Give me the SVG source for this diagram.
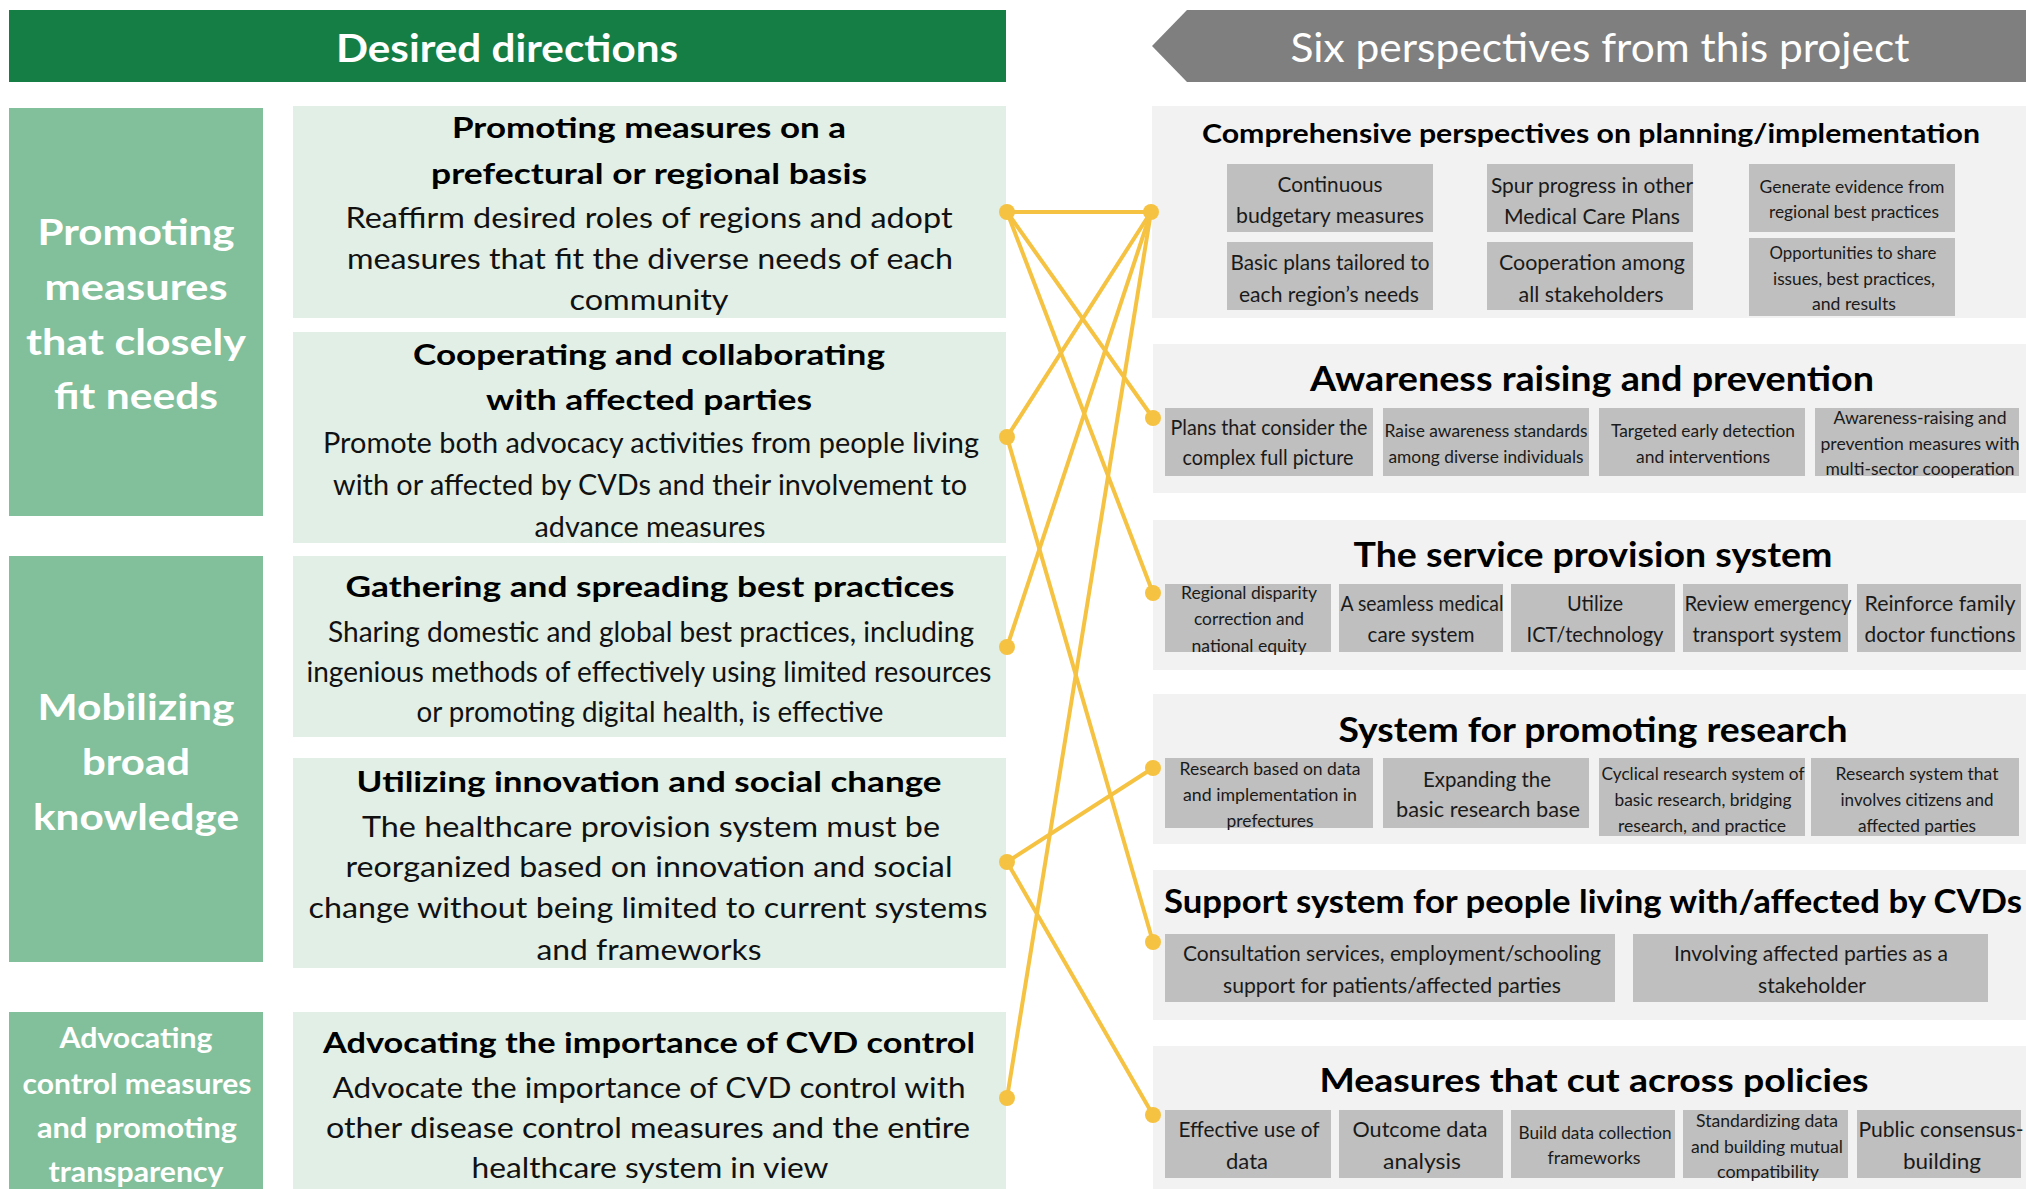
<svg xmlns="http://www.w3.org/2000/svg" width="2026" height="1189" viewBox="0 0 2026 1189">
<style>
text{font-family:Lato,"Liberation Sans",sans-serif;text-anchor:middle;}
.hd{fill:#fff;font-size:39px;font-weight:700;}
.hd2{fill:#fff;font-size:40px;font-weight:400;}
.side{fill:#82BF9B;}
.sb{fill:#fff;font-weight:700;font-size:37px;}
.sb3{fill:#fff;font-weight:700;font-size:28px;}
.cb{fill:#E2EFE6;}
.ct{fill:#000;font-weight:700;font-size:29px;}
.cx{fill:#111;font-size:28px;}
.sec{fill:#F2F2F2;}
.st{fill:#000;font-weight:700;font-size:34px;}
.bx{fill:#BFBFBF;}
.t2{fill:#1a1a1a;font-size:21px;}
.t3{fill:#1a1a1a;font-size:18px;}
.con line{stroke:#F5C242;stroke-width:4;stroke-linecap:round;}
.con circle{fill:#F5C242;}
</style>

<g id="header-left">
<rect x="9" y="10" width="997" height="72" fill="#147E45"/>
<text class="hd" x="507" y="62" textLength="342" lengthAdjust="spacingAndGlyphs">Desired directions</text>
</g>
<g id="header-right">
<polygon points="1152,46 1187,10 2026,10 2026,82 1187,82" fill="#7F7F7F"/>
<text class="hd2" x="1600" y="62" textLength="619" lengthAdjust="spacingAndGlyphs">Six perspectives from this project</text>
</g>

<g id="side-1">
<rect class="side" x="9" y="108" width="254" height="408"/>
<text class="sb" x="136" y="245" textLength="197" lengthAdjust="spacingAndGlyphs">Promoting</text>
<text class="sb" x="136" y="300" textLength="183" lengthAdjust="spacingAndGlyphs">measures</text>
<text class="sb" x="136" y="355" textLength="220" lengthAdjust="spacingAndGlyphs">that closely</text>
<text class="sb" x="136" y="409" textLength="164" lengthAdjust="spacingAndGlyphs">fit needs</text>
</g>
<g id="side-2">
<rect class="side" x="9" y="556" width="254" height="406"/>
<text class="sb" x="136" y="720" textLength="197" lengthAdjust="spacingAndGlyphs">Mobilizing</text>
<text class="sb" x="136" y="775" textLength="108" lengthAdjust="spacingAndGlyphs">broad</text>
<text class="sb" x="136" y="830" textLength="206" lengthAdjust="spacingAndGlyphs">knowledge</text>
</g>
<g id="side-3">
<rect class="side" x="9" y="1012" width="254" height="177"/>
<text class="sb3" x="136" y="1048" textLength="153" lengthAdjust="spacingAndGlyphs">Advocating</text>
<text class="sb3" x="137" y="1094" textLength="229" lengthAdjust="spacingAndGlyphs">control measures</text>
<text class="sb3" x="137" y="1138" textLength="200" lengthAdjust="spacingAndGlyphs">and promoting</text>
<text class="sb3" x="136" y="1182" textLength="175" lengthAdjust="spacingAndGlyphs">transparency</text>
</g>

<g id="dir-1">
<rect class="cb" x="293" y="106" width="713" height="212"/>
<text class="ct" x="649" y="138" textLength="394" lengthAdjust="spacingAndGlyphs">Promoting measures on a</text>
<text class="ct" x="649" y="184" textLength="436" lengthAdjust="spacingAndGlyphs">prefectural or regional basis</text>
<text class="cx" x="649" y="228" textLength="607" lengthAdjust="spacingAndGlyphs">Reaffirm desired roles of regions and adopt</text>
<text class="cx" x="650" y="269" textLength="606" lengthAdjust="spacingAndGlyphs">measures that fit the diverse needs of each</text>
<text class="cx" x="649" y="310" textLength="159" lengthAdjust="spacingAndGlyphs">community</text>
</g>
<g id="dir-2">
<rect class="cb" x="293" y="332" width="713" height="211"/>
<text class="ct" x="649" y="365" textLength="472" lengthAdjust="spacingAndGlyphs">Cooperating and collaborating</text>
<text class="ct" x="649" y="410" textLength="326" lengthAdjust="spacingAndGlyphs">with affected parties</text>
<text class="cx" x="651" y="453" textLength="656" lengthAdjust="spacingAndGlyphs">Promote both advocacy activities from people living</text>
<text class="cx" x="650" y="495" textLength="634" lengthAdjust="spacingAndGlyphs">with or affected by CVDs and their involvement to</text>
<text class="cx" x="650" y="537" textLength="231" lengthAdjust="spacingAndGlyphs">advance measures</text>
</g>
<g id="dir-3">
<rect class="cb" x="293" y="556" width="713" height="181"/>
<text class="ct" x="650" y="597" textLength="609" lengthAdjust="spacingAndGlyphs">Gathering and spreading best practices</text>
<text class="cx" x="651" y="642" textLength="646" lengthAdjust="spacingAndGlyphs">Sharing domestic and global best practices, including</text>
<text class="cx" x="649" y="682" textLength="685" lengthAdjust="spacingAndGlyphs">ingenious methods of effectively using limited resources</text>
<text class="cx" x="650" y="722" textLength="467" lengthAdjust="spacingAndGlyphs">or promoting digital health, is effective</text>
</g>
<g id="dir-4">
<rect class="cb" x="293" y="758" width="713" height="210"/>
<text class="ct" x="649" y="792" textLength="585" lengthAdjust="spacingAndGlyphs">Utilizing innovation and social change</text>
<text class="cx" x="651" y="837" textLength="578" lengthAdjust="spacingAndGlyphs">The healthcare provision system must be</text>
<text class="cx" x="649" y="877" textLength="607" lengthAdjust="spacingAndGlyphs">reorganized based on innovation and social</text>
<text class="cx" x="648" y="918" textLength="679" lengthAdjust="spacingAndGlyphs">change without being limited to current systems</text>
<text class="cx" x="649" y="960" textLength="225" lengthAdjust="spacingAndGlyphs">and frameworks</text>
</g>
<g id="dir-5">
<rect class="cb" x="293" y="1012" width="713" height="177"/>
<text class="ct" x="649" y="1053" textLength="652" lengthAdjust="spacingAndGlyphs">Advocating the importance of CVD control</text>
<text class="cx" x="649" y="1098" textLength="633" lengthAdjust="spacingAndGlyphs">Advocate the importance of CVD control with</text>
<text class="cx" x="648" y="1138" textLength="644" lengthAdjust="spacingAndGlyphs">other disease control measures and the entire</text>
<text class="cx" x="650" y="1178" textLength="357" lengthAdjust="spacingAndGlyphs">healthcare system in view</text>
</g>

<g id="persp-1">
<rect class="sec" x="1152" y="106" width="874" height="212"/>
<text class="st" style="font-size:26px" x="1591" y="143" textLength="778" lengthAdjust="spacingAndGlyphs">Comprehensive perspectives on planning/implementation</text>
<rect class="bx" x="1227" y="164" width="206" height="68"/>
<text class="t2" x="1330" y="192" textLength="105" lengthAdjust="spacingAndGlyphs">Continuous</text>
<text class="t2" x="1330" y="223" textLength="188" lengthAdjust="spacingAndGlyphs">budgetary measures</text>
<rect class="bx" x="1487" y="164" width="206" height="68"/>
<text class="t2" x="1592" y="193" textLength="202" lengthAdjust="spacingAndGlyphs">Spur progress in other</text>
<text class="t2" x="1592" y="224" textLength="176" lengthAdjust="spacingAndGlyphs">Medical Care Plans</text>
<rect class="bx" x="1749" y="164" width="206" height="68"/>
<text class="t3" style="font-size:17px" x="1852" y="193" textLength="185" lengthAdjust="spacingAndGlyphs">Generate evidence from</text>
<text class="t3" style="font-size:17px" x="1854" y="218" textLength="170" lengthAdjust="spacingAndGlyphs">regional best practices</text>
<rect class="bx" x="1227" y="242" width="206" height="68"/>
<text class="t2" x="1330" y="270" textLength="199" lengthAdjust="spacingAndGlyphs">Basic plans tailored to</text>
<text class="t2" x="1329" y="302" textLength="180" lengthAdjust="spacingAndGlyphs">each region’s needs</text>
<rect class="bx" x="1487" y="242" width="206" height="68"/>
<text class="t2" x="1592" y="270" textLength="186" lengthAdjust="spacingAndGlyphs">Cooperation among</text>
<text class="t2" x="1591" y="302" textLength="145" lengthAdjust="spacingAndGlyphs">all stakeholders</text>
<rect class="bx" x="1749" y="238" width="206" height="78"/>
<text class="t3" x="1853" y="259" textLength="167" lengthAdjust="spacingAndGlyphs">Opportunities to share</text>
<text class="t3" x="1854" y="285" textLength="162" lengthAdjust="spacingAndGlyphs">issues, best practices,</text>
<text class="t3" x="1854" y="310" textLength="84" lengthAdjust="spacingAndGlyphs">and results</text>
</g>

<g id="persp-2">
<rect class="sec" x="1153" y="344" width="873" height="149"/>
<text class="st" x="1592" y="391" textLength="564" lengthAdjust="spacingAndGlyphs">Awareness raising and prevention</text>
<rect class="bx" x="1165" y="408" width="208" height="68"/>
<text class="t2" x="1269" y="435" textLength="197" lengthAdjust="spacingAndGlyphs">Plans that consider the</text>
<text class="t2" x="1268" y="465" textLength="171" lengthAdjust="spacingAndGlyphs">complex full picture</text>
<rect class="bx" x="1383" y="408" width="206" height="68"/>
<text class="t3" x="1486" y="437" textLength="203" lengthAdjust="spacingAndGlyphs">Raise awareness standards</text>
<text class="t3" x="1486" y="463" textLength="195" lengthAdjust="spacingAndGlyphs">among diverse individuals</text>
<rect class="bx" x="1599" y="408" width="206" height="68"/>
<text class="t3" x="1703" y="437" textLength="184" lengthAdjust="spacingAndGlyphs">Targeted early detection</text>
<text class="t3" x="1703" y="463" textLength="134" lengthAdjust="spacingAndGlyphs">and interventions</text>
<rect class="bx" x="1815" y="408" width="204" height="68"/>
<text class="t3" x="1920" y="424" textLength="173" lengthAdjust="spacingAndGlyphs">Awareness-raising and</text>
<text class="t3" x="1920" y="450" textLength="199" lengthAdjust="spacingAndGlyphs">prevention measures with</text>
<text class="t3" x="1920" y="475" textLength="189" lengthAdjust="spacingAndGlyphs">multi-sector cooperation</text>
</g>

<g id="persp-3">
<rect class="sec" x="1153" y="520" width="873" height="150"/>
<text class="st" x="1593" y="567" textLength="479" lengthAdjust="spacingAndGlyphs">The service provision system</text>
<rect class="bx" x="1165" y="584" width="166" height="68"/>
<text class="t3" x="1249" y="599" textLength="136" lengthAdjust="spacingAndGlyphs">Regional disparity</text>
<text class="t3" x="1249" y="625" textLength="110" lengthAdjust="spacingAndGlyphs">correction and</text>
<text class="t3" x="1249" y="652" textLength="115" lengthAdjust="spacingAndGlyphs">national equity</text>
<rect class="bx" x="1339" y="584" width="164" height="68"/>
<text class="t2" x="1422" y="611" textLength="163" lengthAdjust="spacingAndGlyphs">A seamless medical</text>
<text class="t2" x="1421" y="642" textLength="107" lengthAdjust="spacingAndGlyphs">care system</text>
<rect class="bx" x="1511" y="584" width="164" height="68"/>
<text class="t2" x="1595" y="611" textLength="56" lengthAdjust="spacingAndGlyphs">Utilize</text>
<text class="t2" x="1595" y="642" textLength="137" lengthAdjust="spacingAndGlyphs">ICT/technology</text>
<rect class="bx" x="1683" y="584" width="165" height="68"/>
<text class="t2" x="1768" y="611" textLength="167" lengthAdjust="spacingAndGlyphs">Review emergency</text>
<text class="t2" x="1767" y="642" textLength="149" lengthAdjust="spacingAndGlyphs">transport system</text>
<rect class="bx" x="1857" y="584" width="164" height="68"/>
<text class="t2" x="1940" y="611" textLength="151" lengthAdjust="spacingAndGlyphs">Reinforce family</text>
<text class="t2" x="1940" y="642" textLength="151" lengthAdjust="spacingAndGlyphs">doctor functions</text>
</g>

<g id="persp-4">
<rect class="sec" x="1153" y="694" width="873" height="150"/>
<text class="st" x="1593" y="742" textLength="509" lengthAdjust="spacingAndGlyphs">System for promoting research</text>
<rect class="bx" x="1165" y="758" width="208" height="70"/>
<text class="t3" x="1270" y="775" textLength="181" lengthAdjust="spacingAndGlyphs">Research based on data</text>
<text class="t3" x="1270" y="801" textLength="174" lengthAdjust="spacingAndGlyphs">and implementation in</text>
<text class="t3" x="1270" y="827" textLength="87" lengthAdjust="spacingAndGlyphs">prefectures</text>
<rect class="bx" x="1383" y="758" width="206" height="70"/>
<text class="t2" x="1487" y="787" textLength="128" lengthAdjust="spacingAndGlyphs">Expanding the</text>
<text class="t2" x="1488" y="817" textLength="184" lengthAdjust="spacingAndGlyphs">basic research base</text>
<rect class="bx" x="1599" y="758" width="206" height="78"/>
<text class="t3" x="1703" y="780" textLength="203" lengthAdjust="spacingAndGlyphs">Cyclical research system of</text>
<text class="t3" x="1703" y="806" textLength="177" lengthAdjust="spacingAndGlyphs">basic research, bridging</text>
<text class="t3" x="1702" y="832" textLength="168" lengthAdjust="spacingAndGlyphs">research, and practice</text>
<rect class="bx" x="1811" y="758" width="208" height="78"/>
<text class="t3" x="1917" y="780" textLength="163" lengthAdjust="spacingAndGlyphs">Research system that</text>
<text class="t3" x="1917" y="806" textLength="153" lengthAdjust="spacingAndGlyphs">involves citizens and</text>
<text class="t3" x="1917" y="832" textLength="118" lengthAdjust="spacingAndGlyphs">affected parties</text>
</g>

<g id="persp-5">
<rect class="sec" x="1153" y="870" width="873" height="150"/>
<text class="st" style="font-size:32px" x="1593" y="913" textLength="858" lengthAdjust="spacingAndGlyphs">Support system for people living with/affected by CVDs</text>
<rect class="bx" x="1165" y="934" width="450" height="68"/>
<text class="t2" x="1392" y="961" textLength="418" lengthAdjust="spacingAndGlyphs">Consultation services, employment/schooling</text>
<text class="t2" x="1392" y="993" textLength="338" lengthAdjust="spacingAndGlyphs">support for patients/affected parties</text>
<rect class="bx" x="1633" y="934" width="355" height="68"/>
<text class="t2" x="1811" y="961" textLength="274" lengthAdjust="spacingAndGlyphs">Involving affected parties as a</text>
<text class="t2" x="1812" y="993" textLength="108" lengthAdjust="spacingAndGlyphs">stakeholder</text>
</g>

<g id="persp-6">
<rect class="sec" x="1153" y="1046" width="873" height="143"/>
<text class="st" style="font-size:32px" x="1594" y="1092" textLength="549" lengthAdjust="spacingAndGlyphs">Measures that cut across policies</text>
<rect class="bx" x="1165" y="1110" width="166" height="68"/>
<text class="t2" x="1249" y="1137" textLength="141" lengthAdjust="spacingAndGlyphs">Effective use of</text>
<text class="t2" x="1247" y="1169" textLength="42" lengthAdjust="spacingAndGlyphs">data</text>
<rect class="bx" x="1339" y="1110" width="164" height="68"/>
<text class="t2" x="1420" y="1137" textLength="135" lengthAdjust="spacingAndGlyphs">Outcome data</text>
<text class="t2" x="1422" y="1169" textLength="78" lengthAdjust="spacingAndGlyphs">analysis</text>
<rect class="bx" x="1511" y="1110" width="164" height="68"/>
<text class="t3" x="1595" y="1139" textLength="153" lengthAdjust="spacingAndGlyphs">Build data collection</text>
<text class="t3" x="1594" y="1164" textLength="93" lengthAdjust="spacingAndGlyphs">frameworks</text>
<rect class="bx" x="1683" y="1110" width="165" height="68"/>
<text class="t3" x="1767" y="1127" textLength="142" lengthAdjust="spacingAndGlyphs">Standardizing data</text>
<text class="t3" x="1767" y="1153" textLength="152" lengthAdjust="spacingAndGlyphs">and building mutual</text>
<text class="t3" x="1768" y="1178" textLength="102" lengthAdjust="spacingAndGlyphs">compatibility</text>
<rect class="bx" x="1857" y="1110" width="164" height="68"/>
<text class="t2" x="1941" y="1137" textLength="165" lengthAdjust="spacingAndGlyphs">Public consensus-</text>
<text class="t2" x="1942" y="1169" textLength="78" lengthAdjust="spacingAndGlyphs">building</text>
</g>

<g id="connectors" class="con">
<line x1="1007" y1="212" x2="1151" y2="212"/>
<line x1="1007" y1="212" x2="1153" y2="418"/>
<line x1="1007" y1="212" x2="1153" y2="593"/>
<line x1="1151" y1="212" x2="1007" y2="437"/>
<line x1="1151" y1="212" x2="1007" y2="647"/>
<line x1="1151" y1="212" x2="1007" y2="1098"/>
<line x1="1007" y1="437" x2="1153" y2="942"/>
<line x1="1007" y1="862" x2="1153" y2="768"/>
<line x1="1007" y1="862" x2="1153" y2="1115"/>
<circle cx="1007" cy="212" r="8"/>
<circle cx="1007" cy="437" r="8"/>
<circle cx="1007" cy="647" r="8"/>
<circle cx="1007" cy="862" r="8"/>
<circle cx="1007" cy="1098" r="8"/>
<circle cx="1151" cy="212" r="8"/>
<circle cx="1153" cy="418" r="8"/>
<circle cx="1153" cy="593" r="8"/>
<circle cx="1153" cy="768" r="8"/>
<circle cx="1153" cy="942" r="8"/>
<circle cx="1153" cy="1115" r="8"/>
</g>
</svg>
